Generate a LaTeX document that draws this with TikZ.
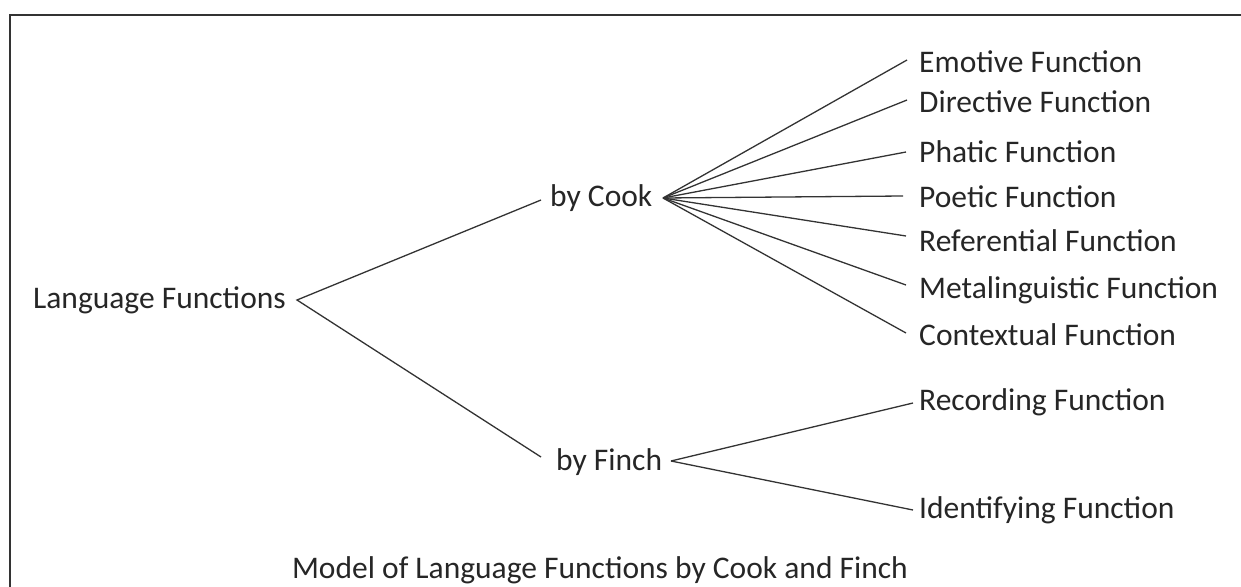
\documentclass[tikz,border=0pt]{standalone}
\usepackage{fontspec}
\setmainfont{Carlito}
\begin{document}
\begin{tikzpicture}[x=1pt,y=-1pt,
  lbl/.style={inner sep=0pt,font=\fontsize{31.5}{36}\selectfont,text=black!85},
  lft/.style={lbl,anchor=west},
  link/.style={draw=black!80,line width=1.3pt},
  frame/.style={draw=black!80,line width=2pt}]
\useasboundingbox (0,0) rectangle (1241,586);
\draw[frame] (10,600) -- (10,15) -- (1260,15);
% root
\node[lbl,anchor=east] (root) at (286,300) {Language Functions};
\coordinate (r) at (297,300);
\node[lft] (cook) at (550,198) {by Cook};
\node[lft] (finch) at (556,462) {by Finch};
\coordinate (ci) at (541,200);
\coordinate (fi) at (541,457);
\draw[link] (ci) -- (r) -- (fi);
\coordinate (c) at (663,198);
\coordinate (f) at (671,461);
% leaves
\node[lft] (emo) at (919,62) {Emotive Function};
\node[lft] (dir) at (919,102) {Directive Function};
\node[lft] (pha) at (919,152) {Phatic Function};
\node[lft] (poe) at (919,197) {Poetic Function};
\node[lft] (ref) at (919,241) {Referential Function};
\node[lft] (met) at (919,290) {Metalinguistic Function};
\node[lft] (con) at (919,335) {Contextual Function};
\node[lft] (rec) at (919,402) {Recording Function};
\node[lft] (ide) at (919,510) {Identifying Function};
\draw[link] (c) -- (907,60);
\draw[link] (c) -- (907,100);
\draw[link] (c) -- (906,152);
\draw[link] (c) -- (903,196);
\draw[link] (c) -- (906,236);
\draw[link] (c) -- (906,285);
\draw[link] (c) -- (906,333);
\draw[link] (f) -- (913,403);
\draw[link] (f) -- (913,510);
\node[lbl] (cap) at (600,570) {Model of Language Functions by Cook and Finch};
\end{tikzpicture}
\end{document}
